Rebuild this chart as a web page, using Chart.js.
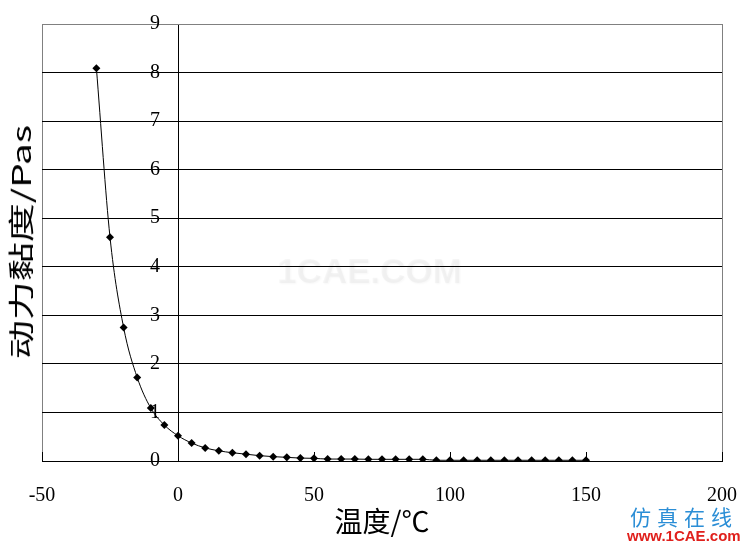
<!DOCTYPE html>
<html>
<head>
<meta charset="utf-8">
<script src="https://cdn.jsdelivr.net/npm/chart.js@4"></script>
<style>
    body { margin: 0; background: #fff; }
    .wrap { position: relative; width: 741px; height: 545px; }
    .ytitle {
        position: absolute; left: 20px; top: 242px; white-space: nowrap;
        font-family: 'Noto Sans CJK SC'; font-size: 26px; line-height: 26px; color: #000;
        transform: translate(-50%, -50%) rotate(-90deg) scaleX(1.5);
    }
    .mark {
        position: absolute; left: 277px; top: 251px; font-family: 'Liberation Sans'; font-weight: bold;
        font-size: 35px; color: rgba(0, 0, 0, 0.035); text-shadow: 1px 1px 2px rgba(0, 0, 0, 0.03);
    }
    .logo1 {
        position: absolute; left: 630px; top: 503px; font-family: 'Noto Sans CJK SC'; font-size: 21px;
        letter-spacing: 6px; color: #2b8ed6; line-height: 26px;
    }
    .logo2 {
        position: absolute; left: 627px; top: 528px; font-family: 'Liberation Sans'; font-weight: bold;
        font-size: 15px; color: #e0201c; line-height: 16px;
    }
</style>
</head>
<body>
<div class="wrap">
    <canvas id="myChart" width="741" height="545"></canvas>
    <div class="ytitle">动力黏度/Pas</div>
    <div class="mark">1CAE.COM</div>
    <div class="logo1">仿真在线</div>
    <div class="logo2">www.1CAE.com</div>
</div>
<script>
// 温度, °C
const temperatures = [-30, -25, -20, -15, -10, -5, 0, 5, 10, 15, 20, 25, 30, 35, 40, 45, 50,
    55, 60, 65, 70, 75, 80, 85, 90, 95, 100, 105, 110, 115, 120, 125, 130, 135, 140, 145, 150];
// 动力黏度, Pa·s
const viscosity = [8.09, 4.61, 2.75, 1.72, 1.09, 0.74, 0.52, 0.37, 0.27, 0.21, 0.17, 0.14, 0.11, 0.09, 0.075, 0.06, 0.055,
    0.04, 0.04, 0.04, 0.035, 0.035, 0.035, 0.035, 0.035, 0.015, 0.015, 0.015, 0.015, 0.015, 0.015, 0.015, 0.015, 0.015, 0.015, 0.015, 0.015];
const xTicks = [-50, 0, 50, 100, 150, 200];
const yTicks = [0, 1, 2, 3, 4, 5, 6, 7, 8, 9];

const serif = 'Liberation Serif';

// серая рамка вокруг области графика
const framePlugin = {
    id: 'frame',
    beforeDraw(chart) {
        const { ctx, chartArea: a } = chart;
        ctx.save();
        ctx.strokeStyle = '#808080';
        ctx.lineWidth = 1;
        ctx.strokeRect(a.left + 0.5, a.top + 0.5, a.right - a.left, a.bottom - a.top);
        ctx.restore();
    }
};

const ctx = document.getElementById('myChart').getContext('2d');
const chart = new Chart(ctx, {
    type: 'line',
    data: {
        datasets: [{
            data: temperatures.map((t, i) => ({ x: t, y: viscosity[i] })),
            borderColor: '#000',
            backgroundColor: '#000',
            borderWidth: 1,
            cubicInterpolationMode: 'monotone',
            pointStyle: 'rectRot',
            pointRadius: 4,
            pointBorderWidth: 0
        }]
    },
    options: {
        responsive: false,
        animation: false,
        layout: { padding: { left: 42, top: 24, right: 19, bottom: 0 } },
        plugins: { legend: { display: false }, tooltip: { enabled: false } },
        scales: {
            x: {
                type: 'linear',
                position: 'bottom',
                min: -50,
                max: 200,
                afterBuildTicks: s => { s.ticks = xTicks.map(v => ({ value: v })); },
                grid: {
                    // вертикальная ось проходит через x = 0
                    color: c => (c.tick && c.tick.value === 0 ? '#000' : 'rgba(0,0,0,0)'),
                    drawTicks: true,
                    tickLength: -9,
                    tickColor: '#000'
                },
                border: { color: '#000', width: 1 },
                ticks: { padding: 32, color: '#000', font: { family: serif, size: 20 } },
                title: {
                    display: true, text: '温度/℃', color: '#000',
                    font: { family: 'Noto Sans CJK SC', size: 28 }, padding: { top: 0, bottom: 7 }
                },
                afterFit: s => { s.height = 84; s.paddingLeft = 0; s.paddingRight = 0; }
            },
            y: {
                type: 'linear',
                position: { x: -6.6 },
                min: 0,
                max: 9,
                afterBuildTicks: s => { s.ticks = yTicks.map(v => ({ value: v })); },
                grid: {
                    color: c => (c.tick && c.tick.value === 9 ? '#808080' : '#000'),
                    drawTicks: false
                },
                border: { display: false },
                ticks: { padding: 0, color: '#000', font: { family: serif, size: 20 } },
                afterFit: s => { s.width = 0; s.paddingTop = 0; s.paddingBottom = 0; }
            }
        }
    },
    plugins: [framePlugin]
});
</script>
</body>
</html>
